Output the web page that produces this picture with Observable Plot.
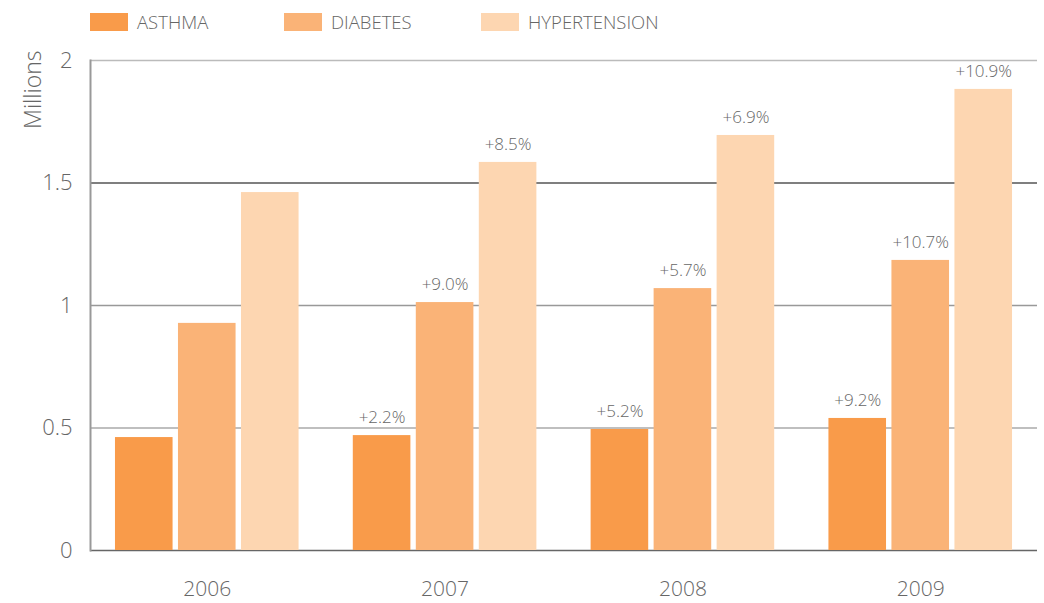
<!DOCTYPE html>
<html>
<head>
<meta charset="utf-8">
<script src="https://cdn.jsdelivr.net/npm/d3@7"></script>
<script src="https://cdn.jsdelivr.net/npm/@observablehq/plot@0.6"></script>
<style>
  body { margin: 0; background: #fff; font-family: "Open Sans", Lato, sans-serif; font-weight: 300; }
  #legend { height: 40px; position: relative; }
  .item { position: absolute; top: 9px; display: flex; align-items: center; font-size: 18.5px; color: #666; }
  .sw { width: 38px; height: 18px; margin-right: 9px; }
</style>
</head>
<body>
<div id="legend"></div>
<div id="chart"></div>
<script>
const years = ["2006", "2007", "2008", "2009"];
const series = ["ASTHMA", "DIABETES", "HYPERTENSION"];
const asthma = [0.461, 0.469, 0.494, 0.539];
const diabetes = [0.927, 1.012, 1.069, 1.184];
const hypertension = [1.461, 1.584, 1.694, 1.882];
const asthmaLabels = ["", "+2.2%", "+5.2%", "+9.2%"];
const diabetesLabels = ["", "+9.0%", "+5.7%", "+10.7%"];
const hypertensionLabels = ["", "+8.5%", "+6.9%", "+10.9%"];
const yTicks = [0, 0.5, 1, 1.5, 2];
const colors = ["#f99b4a", "#fab377", "#fdd6b1"];

const values = [asthma, diabetes, hypertension];
const labels = [asthmaLabels, diabetesLabels, hypertensionLabels];

// legend
const legend = document.getElementById("legend");
const legendX = [90, 284, 481];
series.forEach((s, j) => {
  const d = document.createElement("div");
  d.className = "item";
  d.style.left = legendX[j] + "px";
  d.innerHTML = `<div class="sw" style="background:${colors[j]}"></div><span>${s}</span>`;
  legend.appendChild(d);
});

const gridColor = {0: "#666", 0.5: "#aaa", 1: "#999", 1.5: "#555", 2: "#bbb"};

// layout within a year band: three bars of barW separated by gap
const barW = 57, gap = 6, groupW = 3 * barW + 2 * gap;
const seriesMarks = series.flatMap((s, j) => {
  const rows = years.map((y, i) => ({year: y, value: values[j][i], label: labels[j][i]}));
  const left = j * (barW + gap);
  const right = groupW - left - barW;
  const offset = (j - 1) * (barW + gap);
  return [
    Plot.barY(rows, {x: "year", y: "value", fill: colors[j], insetLeft: left, insetRight: right}),
    Plot.text(rows, {x: "year", y: "value", text: "label", dx: offset, dy: -18, fontSize: 17, fill: "#666"})
  ];
});

const chart = Plot.plot({
  width: 1044,
  height: 563,
  marginTop: 20,
  marginBottom: 53,
  marginLeft: 90,
  marginRight: 7,
  style: {fontFamily: "'Open Sans', Lato, sans-serif", fontWeight: 300, color: "#666", background: "#fff"},
  x: {domain: years, paddingInner: 0.228, paddingOuter: 0.105, round: false, label: null},
  y: {domain: [0, 2], label: null},
  marks: [
    Plot.ruleY(yTicks, {y: d => d, stroke: d => gridColor[d], strokeWidth: 1.5}),
    Plot.frame({anchor: "left", stroke: "#999", strokeWidth: 2}),
    ...seriesMarks,
    Plot.axisY(yTicks, {tickSize: 0, tickPadding: 18, fontSize: 22, fill: "#666", tickFormat: d => String(d), label: null}),
    Plot.axisX({anchor: "bottom", tickSize: 0, tickPadding: 31, fontSize: 21, fill: "#666", label: null}),
    Plot.text(["Millions"], {frameAnchor: "top-left", text: d => d, rotate: -90, textAnchor: "end", dx: -66, dy: -10, fontSize: 23, fill: "#666"})
  ]
});
document.getElementById("chart").appendChild(chart);
</script>
</body>
</html>
